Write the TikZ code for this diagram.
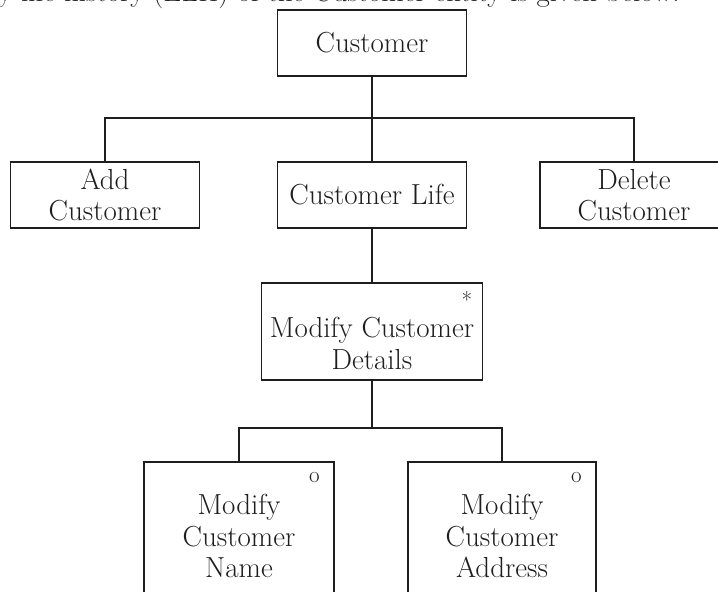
\documentclass[tikz,border=0pt]{standalone}
\usetikzlibrary{calc}
\definecolor{ink}{HTML}{1E1E1E}
\begin{document}
\begin{tikzpicture}[x=1pt,y=-1pt,
  txt/.style={font=\fontsize{29}{31.5}\selectfont, text=ink, align=center, inner sep=0pt},
  plain/.style={font=\fontsize{29}{31.5}\selectfont, text=ink, inner sep=0pt},
  box/.style={draw=ink, line width=1.1pt, inner sep=0pt, outer sep=0pt,
              minimum width=#1, minimum height=66pt},
  link/.style={draw=ink, line width=1.1pt},
  flag/.style={font=\fontsize{23}{23}\selectfont, text=ink, inner sep=0pt}]
\useasboundingbox (0,0) rectangle (718,592);
\clip (0,0) rectangle (718,592);

% running text above the chart, mostly cut off by the top edge
\node[plain, anchor=base west] (intro) at (-2,1)
  {y life history (ELH) of the Customer entity is given below.};

% first level
\node[box=189pt, txt] (cust) at (372,43) {Customer};
\node[box=189pt, txt] (add)  at (105,195) {Add\\Customer};
\node[box=189pt, txt] (life) at (372,195) {Customer Life};
\node[box=188pt, txt] (del)  at (634,195) {Delete\\Customer};
\coordinate (j1) at (372,118);
\draw[link] (cust.south) -- (life.north);
\draw[link] (add.north) |- (j1) -| (del.north);

% iteration
\node[box=221pt, minimum height=97pt] (mcd) at (372,331.5) {};
\node[txt] (mcdtext) at ($(mcd.center)+(0,12)$) {Modify Customer\\Details};
\node[flag, anchor=north east] (star) at ($(mcd.north east)+(-10,8)$) {*};
\draw[link] (life.south) -- (mcd.north);

% selections
\node[box=190pt, minimum height=150pt] (mcn) at (239,537) {};
\node[box=188pt, minimum height=150pt] (mca) at (502,537) {};
\node[txt] (mcntext) at ($(mcn.center)+(0,-1)$) {Modify\\Customer\\Name};
\node[txt] (mcatext) at ($(mca.center)+(0,-1)$) {Modify\\Customer\\Address};
\node[flag, anchor=north east] (o1) at ($(mcn.north east)+(-14,10)$) {o};
\node[flag, anchor=north east] (o2) at ($(mca.north east)+(-14,10)$) {o};
\coordinate (j2) at (372,428);
\draw[link] (mcd.south) -- (j2);
\draw[link] (mcn.north) |- (j2) -| (mca.north);
\end{tikzpicture}
\end{document}
